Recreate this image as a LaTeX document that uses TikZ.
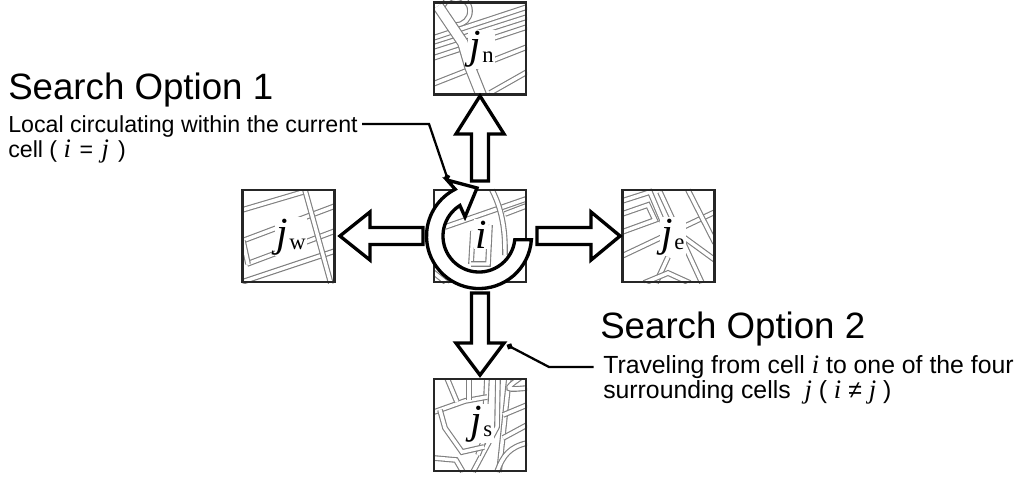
\documentclass[tikz,border=0pt]{standalone}
\usepackage{fontspec}
\setmainfont{Liberation Sans}
\newfontfamily\mapfont{Liberation Serif}
\usetikzlibrary{arrows.meta}
\begin{document}
\begin{tikzpicture}[x=0.75pt,y=-0.75pt,
		cellbox/.style={draw=black!85,line width=1.6pt,minimum size=69pt,inner sep=0pt},
		road/.style={draw=black!50,line width=0.85pt,double=white,double distance=2.6pt},
		wideroad/.style={road,double distance=7pt},
		celllabel/.style={anchor=base west,inner sep=1pt,fill=white,font=\mapfont\fontsize{31}{31}\selectfont\itshape},
		blockarrow/.style={draw=black,line width=2.5pt,fill=white,line join=miter},
		leader/.style={draw=black,line width=1.7pt,-{Circle[length=4.5pt]}},
		optitle/.style={anchor=base west,inner sep=0pt,font=\fontsize{27.5}{30}\selectfont},
		optext/.style={anchor=base west,inner sep=0pt,font=\fontsize{17.4}{20}\selectfont},
		optextb/.style={optext,font=\fontsize{18.6}{20}\selectfont}]
	\newcommand{\vit}[1]{{\mapfont\itshape\fontsize{20}{20}\selectfont #1}}
	\newcommand{\sub}[1]{\kern1pt{\mapfont\upshape\fontsize{17}{17}\selectfont\raisebox{-2.5pt}{#1}}}
	\useasboundingbox (0,0) rectangle (1016,477);
	% north cell
	\begin{scope}
		\clip (434,1) rectangle (527,96);
		\draw[road] (456,11) circle(14);
		\draw[road] (433,38) -- (527,7);
		\draw[road] (433,47) -- (527,17);
		\draw[road] (433,58) -- (527,27);
		\draw[road] (433,84) -- (527,47);
		\draw[road] (490,93) -- (527,72);
		\draw[wideroad] (438,6) -- (463,43) -- (470,67) -- (482,97);
	\end{scope}
	% west cell
	\begin{scope}
		\clip (242,189) rectangle (335,283);
		\draw[road] (242,210) -- (303,192);
		\draw[road] (242,241) -- (335,206);
		\draw[road] (247,264) -- (335,231);
		\draw[road] (242,282) -- (335,251);
		\draw[road] (305,190) -- (331,284);
		\draw[road] (243,241) -- (248,264);
	\end{scope}
	% east cell
	\begin{scope}
		\clip (622,189) rectangle (715,283);
		\draw[road] (622,201) -- (650,192) -- (664,225);
		\draw[road] (622,214) -- (648,205) -- (655,220) -- (622,232);
		\draw[road] (622,256) -- (715,212);
		\draw[road] (660,192) -- (702,283);
		\draw[road] (688,190) -- (715,243);
		\draw[road] (668,257) -- (656,283);
		\draw[road] (678,233) -- (715,260);
		\draw[road] (644,283) -- (668,273) -- (690,283);
	\end{scope}
	% south cell
	\begin{scope}
		\clip (434,378) rectangle (527,472);
		\draw[road] (498,378) -- (497,427) -- (473,472);
		\draw[road] (487,378) -- (484,440) -- (478,455);
		\draw[road] (509,378) -- (499,472);
		\draw[road] (434,412) -- (465,401) -- (487,397);
		\draw[road] (447,378) -- (457,402);
		\draw[road] (469,378) -- (469,400);
		\draw[road] (520,378) .. controls (503,390) and (506,390) .. (527,388);
		\draw[road] (503,415) -- (527,405);
		\draw[road] (503,438) -- (527,425);
		\draw[road] (440,410) -- (445,428) -- (462,452) -- (484,447);
		\draw[road] (434,458) -- (456,460) -- (463,472);
		\draw[road] (497,472) .. controls (503,455) and (510,447) .. (527,443);
	\end{scope}
	% centre cell
	\begin{scope}
		\clip (433,189) rectangle (526,283);
		\draw[road] (445,227) -- (526,199);
		\draw[road] (505,214) -- (526,206);
		\draw[road] (492,190) .. controls (505,215) and (505,240) .. (505,255);
		\draw[road] (471,264) -- (473,231);
		\draw[road] (471,264) -- (488,264) -- (490,225);
		\draw[road] (433,272) -- (448,284);
	\end{scope}
	\node[cellbox] (jn) at (480,48.5) {};
	\node[cellbox] (jw) at (288.5,236) {};
	\node[cellbox] (ci) at (480,236) {};
	\node[cellbox] (je) at (668.5,236) {};
	\node[cellbox] (js) at (480,425) {};
	\node[celllabel] (ljn) at (468,59) {j\sub{n}};
	\node[celllabel] (ljw) at (275,246) {j\sub{w}};
	\node[celllabel] (lci) at (474,248) {i};
	\node[celllabel] (lje) at (660,246) {j\sub{e}};
	\node[celllabel] (ljs) at (469,433) {j\sub{s}};
	% search arrows
	\foreach \from/\ang/\gap/\tip/\hd in {ci.north/90/8/93/55, ci.west/180/10/93/63, ci.east/0/10/93/64, ci.south/-90/10/92/60}
		\draw[blockarrow,shift={(\from)},rotate=\ang] (\gap,-8.5) -- (\hd,-8.5) -- (\hd,-24) -- (\tip,0) -- (\hd,24) -- (\hd,8.5) -- (\gap,8.5) -- cycle;
	% circulating arrow
	\draw[blockarrow] (531.4,239.7) arc[start angle=4,end angle=243,radius=52.5] -- (447,180) -- (477,188) -- (465,217) -- (459.9,205.5) arc[start angle=238,end angle=6,radius=36] -- cycle;
	\node[optitle] (opta) at (8,100) {Search Option 1};
	\node[optext] (optal) at (8,133) {Local circulating within the current};
	\node[optext] (optam) at (8,158) {cell ( \vit{i}\kern1.5pt{} = \kern1.5pt{}\vit{j}\kern2pt{} )};
	\node[optitle] (optb) at (600,338) {Search Option 2};
	\node[optextb] (optbl) at (603,373) {Traveling from cell \vit{i} to one of the four};
	\node[optextb] (optbm) at (603,398) {surrounding cells \ \vit{j} ( \vit{i} ≠ \vit{j} )};
	\coordinate (benda) at (429,124);
	\coordinate (enda) at (448,180);
	\coordinate (bendb) at (549,367);
	\coordinate (endb) at (507,345);
	\draw[leader] ([xshift=3pt]optal.east |- benda) -- (benda) -- (enda);
	\draw[leader] ([xshift=-7pt]optbl.west |- bendb) -- (bendb) -- (endb);
\end{tikzpicture}
\end{document}
